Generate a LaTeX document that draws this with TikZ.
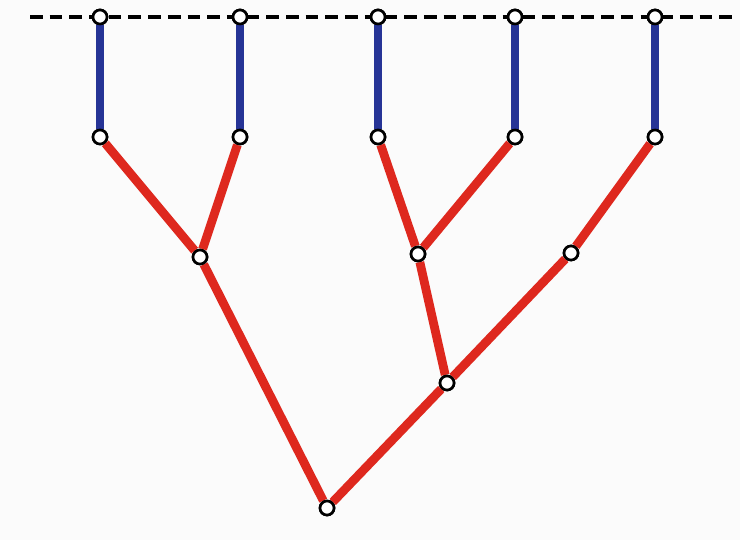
\documentclass[tikz,border=0pt]{standalone}
\usepackage{xcolor}
\usepackage{tikz}
\definecolor{branchred}{RGB}{222,40,30}
\definecolor{stemblue}{RGB}{38,52,150}
\tikzset{
  vtx/.style={circle,draw=black,fill=white,line width=.75pt,inner sep=0pt,minimum size=.14cm},
  redline/.style={draw=branchred,line width=2.5pt},
  blueline/.style={draw=stemblue,line width=2.5pt}
}

\begin{document}
\begin{tikzpicture}[x=.01cm,y=-.01cm]
\fill[white!97!gray] (0,0) rectangle (740,540);
\useasboundingbox (0,0) rectangle (740,540);
\draw[line width=1.1pt,dash pattern=on 3.6pt off 2pt] (30,17)--(735,17);
% top row and second row
\foreach \i/\x in {1/100,2/240,3/378,4/515,5/655}{
  \node[vtx] (t\i) at (\x,17) {};
  \node[vtx] (m\i) at (\x,137) {};
}
\node[vtx] (a) at (200,257) {};
\node[vtx] (b) at (418,254) {};
\node[vtx] (c) at (571,253) {};
\node[vtx] (d) at (447,383) {};
\node[vtx] (r) at (327,508) {};
\foreach \i in {1,...,5}
  \draw[blueline] (t\i)--(m\i);
\draw[redline] (m1)--(a) (m2)--(a) (a)--(r);
\draw[redline] (m3)--(b) (m4)--(b) (b)--(d);
\draw[redline] (m5)--(c) (c)--(d) (d)--(r);
% redraw nodes on top
\foreach \n in {t1,t2,t3,t4,t5,m1,m2,m3,m4,m5,a,b,c,d,r}
  \node[vtx] at (\n) {};
\end{tikzpicture}
\end{document}
